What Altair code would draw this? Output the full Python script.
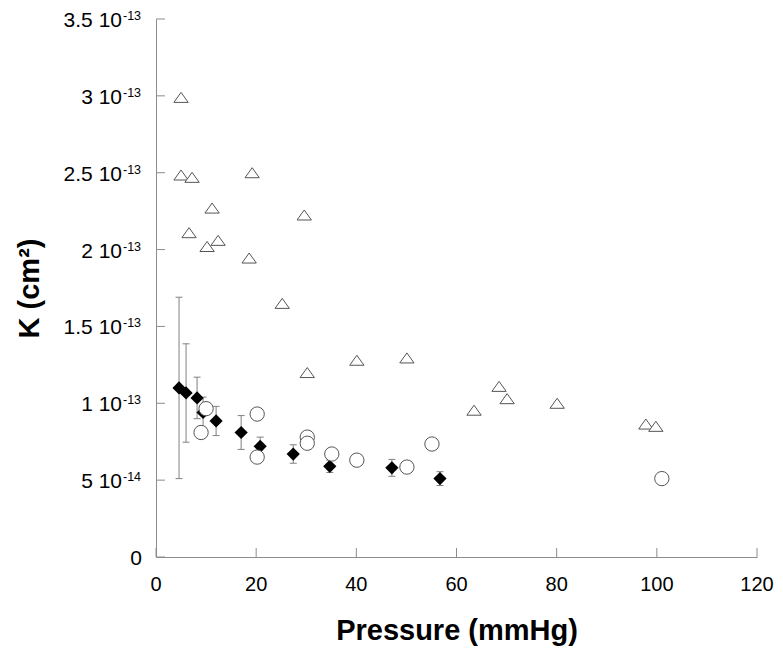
import altair as alt
import pandas as pd

# Open triangles
tri_p = [5.0, 5.0, 7.2, 6.6, 11.2, 10.2, 12.4, 19.2, 18.6, 25.2, 29.6, 30.2, 40.1, 50.1, 63.5, 68.5, 70.1, 80.1, 97.8, 99.8]
tri_k = [2.99e-13, 2.485e-13, 2.47e-13, 2.11e-13, 2.27e-13, 2.02e-13, 2.06e-13, 2.50e-13, 1.945e-13, 1.65e-13,
         2.225e-13, 1.20e-13, 1.28e-13, 1.295e-13, 0.955e-13, 1.11e-13, 1.03e-13, 1.00e-13, 0.865e-13, 0.85e-13]

# Open circles
cir_p = [9.0, 10.0, 20.2, 20.2, 30.2, 30.2, 35.1, 40.1, 50.1, 55.1, 101.0]
cir_k = [0.81e-13, 0.965e-13, 0.93e-13, 0.65e-13, 0.78e-13, 0.74e-13, 0.67e-13, 0.63e-13, 0.585e-13, 0.735e-13, 0.51e-13]

# Filled diamonds with error bars
dia_p = [4.6, 6.0, 8.2, 9.4, 12.0, 17.0, 20.8, 27.4, 34.7, 47.1, 56.7]
dia_k = [1.10e-13, 1.067e-13, 1.035e-13, 0.94e-13, 0.885e-13, 0.81e-13, 0.72e-13, 0.67e-13, 0.59e-13, 0.58e-13, 0.51e-13]
dia_err = [0.59e-13, 0.32e-13, 0.135e-13, 0.10e-13, 0.095e-13, 0.11e-13, 0.06e-13, 0.06e-13, 0.04e-13, 0.055e-13, 0.045e-13]

# Axis ticks and labels
y_ticks = [0, 0.5e-13, 1.0e-13, 1.5e-13, 2.0e-13, 2.5e-13, 3.0e-13, 3.5e-13]
y_base = ["0", "5 10", "1 10", "1.5 10", "2 10", "2.5 10", "3 10", "3.5 10"]
y_exp = ["", "-14", "-13", "-13", "-13", "-13", "-13", "-13"]
x_ticks = [0, 20, 40, 60, 80, 100, 120]
x_labels = ["0", "20", "40", "60", "80", "100", "120"]

FONT = "Liberation Sans, Arial, sans-serif"
AXC = "#8c8c8c"
W, H = 601, 538

xs = alt.Scale(domain=[0, 120], nice=False, zero=True)
ys = alt.Scale(domain=[0, 3.5e-13], nice=False, zero=True)

tri = pd.DataFrame({"p": tri_p, "k": tri_k})
cir = pd.DataFrame({"p": cir_p, "k": cir_k})
dia = pd.DataFrame({"p": dia_p, "k": dia_k, "err": dia_err})
dia["lo"] = dia["k"] - dia["err"]
dia["hi"] = dia["k"] + dia["err"]
yt = pd.DataFrame({"v": y_ticks, "base": y_base, "exp": y_exp})
xt = pd.DataFrame({"v": x_ticks, "lab": x_labels})

x_axis = alt.Axis(labels=False, ticks=False, grid=False, domainColor=AXC, domainWidth=1,
                  title="Pressure (mmHg)", titleFont=FONT, titleFontSize=29, titleFontWeight="bold",
                  titleColor="black", titlePadding=59)
y_axis = alt.Axis(labels=False, ticks=False, grid=False, domainColor=AXC, domainWidth=1,
                  title="K (cm²)", titleFont=FONT, titleFontSize=29, titleFontWeight="bold",
                  titleColor="black", titlePadding=112)


def X(f):
    return alt.X(f, scale=xs, axis=x_axis)


def Y(f):
    return alt.Y(f, scale=ys, axis=y_axis)


err = alt.Chart(dia).mark_rule(color="#808080", strokeWidth=1).encode(
    x=X("p:Q"), y=Y("lo:Q"), y2="hi:Q")
cap_hi = alt.Chart(dia).mark_tick(color="#808080", orient="horizontal", size=7, thickness=1, opacity=1).encode(
    x=X("p:Q"), y=Y("hi:Q"))
cap_lo = alt.Chart(dia).mark_tick(color="#808080", orient="horizontal", size=7, thickness=1, opacity=1).encode(
    x=X("p:Q"), y=Y("lo:Q"))
diam = alt.Chart(dia).mark_point(shape="diamond", filled=True, color="black", size=175, opacity=1).encode(
    x=X("p:Q"), y=Y("k:Q"))
circ = alt.Chart(cir).mark_point(shape="circle", filled=False, fill="white", fillOpacity=1,
                                 stroke="#555555", strokeWidth=1, size=205, opacity=1).encode(
    x=X("p:Q"), y=Y("k:Q"))
trip = alt.Chart(tri).mark_point(shape="M0,-0.7L1,0.7L-1,0.7Z", filled=False, fill="white", fillOpacity=1,
                                 stroke="#555555", strokeWidth=1, size=205, opacity=1).encode(
    x=X("p:Q"), y=Y("k:Q"))

ytick_marks = alt.Chart(yt).mark_rule(color=AXC).encode(
    y=Y("v:Q"), x=alt.value(0), x2=alt.value(9))
xtick_marks = alt.Chart(xt).mark_rule(color=AXC).encode(
    x=X("v:Q"), y=alt.value(H), y2=alt.value(H - 9))

ylab_base = alt.Chart(yt).transform_filter("datum.exp != ''").mark_text(
    align="right", baseline="middle", dy=2, font=FONT, fontSize=21, color="black").encode(
    y=Y("v:Q"), x=alt.value(-34), text="base:N")
ylab_exp = alt.Chart(yt).transform_filter("datum.exp != ''").mark_text(
    align="left", baseline="middle", dy=-3, font=FONT, fontSize=12.5, color="black").encode(
    y=Y("v:Q"), x=alt.value(-33), text="exp:N")
ylab_zero = alt.Chart(yt).transform_filter("datum.exp == ''").mark_text(
    align="right", baseline="middle", dy=2, font=FONT, fontSize=21, color="black").encode(
    y=Y("v:Q"), x=alt.value(-14), text="base:N")
xlab = alt.Chart(xt).mark_text(
    align="center", baseline="alphabetic", font=FONT, fontSize=20, color="black").encode(
    x=X("v:Q"), y=alt.value(H + 34), text="lab:N")

chart = alt.layer(
    err, cap_hi, cap_lo, ytick_marks, xtick_marks, diam, circ, trip,
    ylab_base, ylab_exp, ylab_zero, xlab,
).properties(
    width=W, height=H,
    autosize=alt.AutoSizeParams(type="none"),
    padding={"left": 148, "top": 11, "right": 18, "bottom": 89},
    background="white",
).configure_view(stroke=None)

chart.save("out.html", embed_options={"renderer": "svg", "actions": False})
